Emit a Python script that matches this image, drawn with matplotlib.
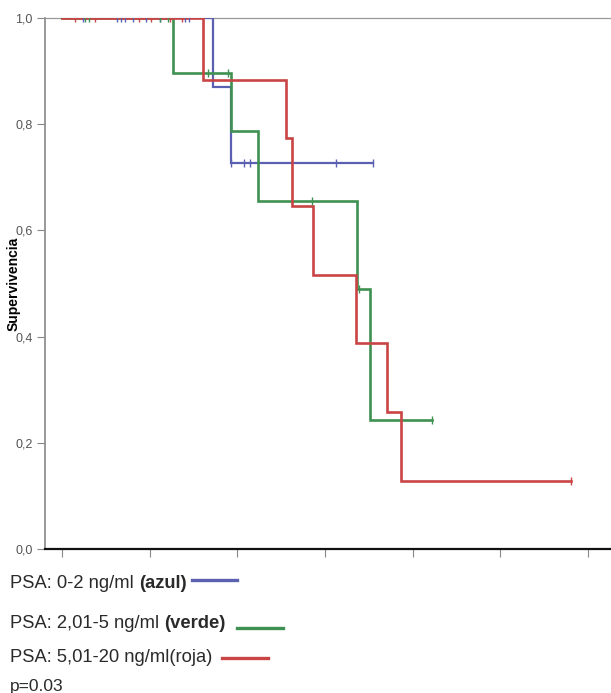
import matplotlib
matplotlib.use("Agg")
import matplotlib.pyplot as plt
from matplotlib.lines import Line2D
import numpy as np

plt.rcParams['font.family'] = ['Liberation Sans', 'DejaVu Sans']

# Kaplan-Meier steps: time of each drop and survival after it
azul_t = [0, 34.5, 38.6]
azul_s = [1.0, 0.870, 0.727]
azul_end = 71.0
azul_cens = [4.8, 12.5, 13.5, 14.4, 16.2, 19.2, 22.4, 28.1, 29.0, 38.6, 41.6, 43.0, 62.6, 71.0]

verde_t = [0, 25.3, 38.6, 44.7, 67.4, 70.3]
verde_s = [1.0, 0.896, 0.787, 0.655, 0.489, 0.243]
verde_end = 84.5
verde_cens = [5.3, 6.2, 22.4, 24.2, 33.3, 37.8, 57.1, 67.8, 84.5]

roja_t = [0, 32.2, 51.0, 52.5, 57.3, 67.1, 74.2, 77.4]
roja_s = [1.0, 0.883, 0.774, 0.646, 0.516, 0.388, 0.258, 0.128]
roja_end = 116.2
roja_cens = [3.0, 7.6, 17.5, 20.3, 24.6, 27.4, 116.2]

x_ticks = [0, 20, 40, 60, 80, 100, 120]
y_ticks = [0.0, 0.2, 0.4, 0.6, 0.8, 1.0]
y_labels = ['0,0', '0,2', '0,4', '0,6', '0,8', '1,0']

col_azul = '#5b60b0'
col_verde = '#3f9152'
col_roja = '#c94545'

W, H = 611, 693
fig = plt.figure(figsize=(W / 100, H / 100), dpi=100, facecolor='white')
ax = fig.add_axes([45 / W, 1 - 549 / H, 1 - 45 / W, (549 - 18) / H])


def km(ax, t, s, end, cens, col, lw):
    tt = list(t) + [end]
    ss = list(s) + [s[-1]]
    ax.step(tt, ss, where='post', color=col, lw=lw, solid_joinstyle='miter', zorder=3)
    cs = [s[np.searchsorted(t, c, side='right') - 1] for c in cens]
    ax.plot(cens, cs, ls='none', marker='|', ms=6, mew=1.0, color=col, zorder=4)


km(ax, azul_t, azul_s, azul_end, azul_cens, col_azul, 1.6)
km(ax, verde_t, verde_s, verde_end, verde_cens, col_verde, 1.9)
km(ax, roja_t, roja_s, roja_end, roja_cens, col_roja, 1.9)

ax.set_xlim(-3.9, 125.3)
ax.set_ylim(0, 1.0)
ax.set_xticks(x_ticks)
ax.set_xticklabels([])
ax.set_yticks(y_ticks)
ax.set_yticklabels(y_labels, fontsize=9, color='#555555')
ax.tick_params(axis='y', length=6, width=0.8, color='#888888', pad=3)
ax.tick_params(axis='x', length=6, width=0.8, color='#888888')
ax.spines['left'].set_color('#888888')
ax.spines['left'].set_linewidth(1.2)
ax.spines['top'].set_color('#999999')
ax.spines['top'].set_linewidth(0.9)
ax.spines['right'].set_visible(False)
ax.spines['bottom'].set_color('#111111')
ax.spines['bottom'].set_linewidth(1.6)
ax.set_ylabel('Supervivencia', fontsize=10, fontweight='bold', labelpad=-4)

# legend text underneath
fs = 13.2
rows = [
    ('PSA: 0-2 ng/ml ', '(azul)', col_azul, 583),
    ('PSA: 2,01-5 ng/ml ', '(verde)', col_verde, 624),
    ('PSA: 5,01-20 ng/ml(roja) ', '', col_roja, 657),
]
line_pos = [(192, 237, 580), (237, 283, 628), (222, 268, 658)]
for (a, b, col, yy), (x0, x1, ly) in zip(rows, line_pos):
    t1 = fig.text(10 / W, 1 - yy / H, a, fontsize=fs, va='center', ha='left', color='#2a2a2a')
    if b:
        ax.annotate(b, xy=(1, 0.5), xycoords=t1, va='center', ha='left',
                    fontsize=fs, fontweight='bold', color='#2a2a2a', annotation_clip=False)
    fig.add_artist(Line2D([x0 / W, x1 / W], [1 - ly / H, 1 - ly / H], color=col, lw=2.4))
fig.text(10 / W, 1 - 686 / H, 'p=0.03', fontsize=12.5, va='center', ha='left', color='#2a2a2a')

fig.savefig('out.png', dpi=100, facecolor='white')
